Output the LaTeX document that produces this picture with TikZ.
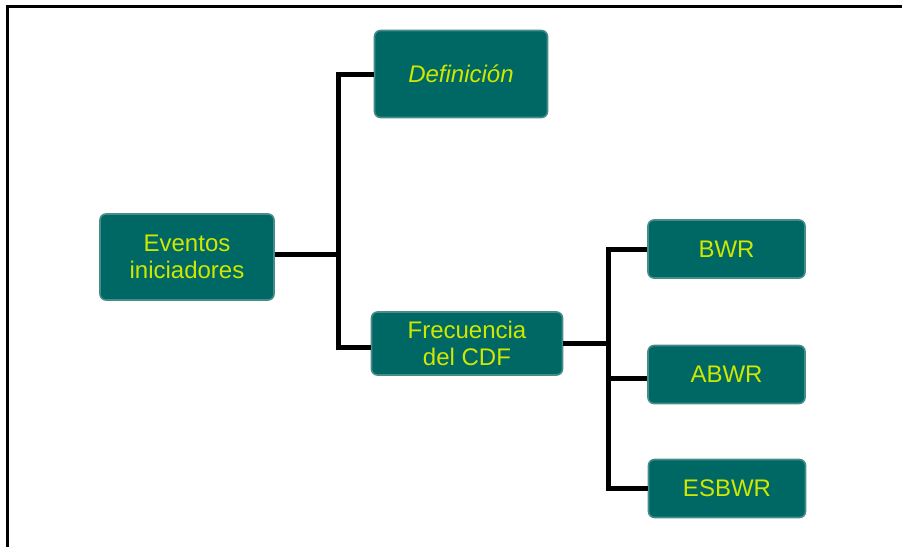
\documentclass[tikz,border=0pt]{standalone}
\usepackage{fontspec}
\setmainfont{Liberation Sans}
\usepackage{tikz}
\usetikzlibrary{calc}

\definecolor{boxteal}{RGB}{0,104,100}
\definecolor{boxedge}{RGB}{70,140,136}
\definecolor{boxtext}{RGB}{206,232,0}

\begin{document}
\begin{tikzpicture}[
    x=0.5pt, y=-0.5pt,
    box/.style={rectangle, draw=boxedge, line width=0.8pt, rounded corners=3pt,
                fill=boxteal, text=boxtext, align=center,
                font=\fontsize{12}{13.5}\selectfont},
    conn/.style={line width=2.5pt, black},
    frame/.style={line width=1.5pt, black}
]
\useasboundingbox (0,0) rectangle (902,547);
\draw[frame] (7.5,547) -- (7.5,6.5) -- (902,6.5);

\node[box, minimum width=87pt, minimum height=43pt] (ev) at (187,257) {Eventos\\iniciadores};
\node[box, minimum width=86.5pt, minimum height=43.5pt, font=\fontsize{12}{13.5}\selectfont\itshape] (def) at (461,74) {Definición};
\node[box, minimum width=95.5pt, minimum height=31.5pt] (frec) at (467,343.5) {Frecuencia\\del CDF};
\node[box, minimum width=78.5pt, minimum height=29pt] (bwr) at (726.5,249) {BWR};
\node[box, minimum width=78.5pt, minimum height=29pt] (abwr) at (726.5,374.5) {ABWR};
\node[box, minimum width=78.5pt, minimum height=29pt] (esbwr) at (727,488.5) {ESBWR};

\coordinate (j1) at (338,254);
\coordinate (j2) at (608,343.5);

\draw[conn] (ev.east |- j1) -- (j1);
\draw[conn] (def.west) -| (j1) |- ($(frec.west)+(0,4)$);
\draw[conn] (frec.east) -- (j2);
\draw[conn] (bwr.west) -| (j2) |- (esbwr.west);
\draw[conn] (j2) |- ($(abwr.west)+(0,4)$);
\end{tikzpicture}
\end{document}
